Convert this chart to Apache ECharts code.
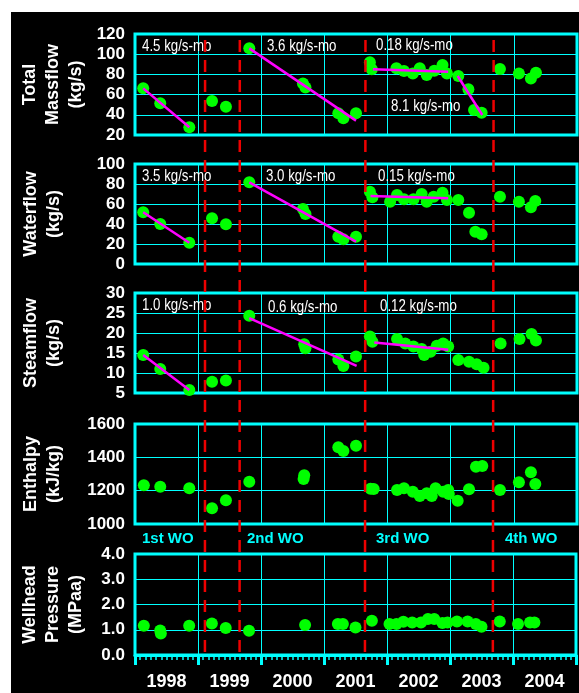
<!DOCTYPE html>
<html><head><meta charset="utf-8">
<script src="https://cdn.jsdelivr.net/npm/echarts@6/dist/echarts.min.js"></script>
<style>
html,body{margin:0;padding:0;background:#fff;}
#bg{position:absolute;left:11px;top:12px;width:568px;height:681px;background:#000;}
#chart{position:absolute;left:0;top:0;width:579px;height:693px;}
</style></head><body>
<div id="bg"></div><div id="chart"></div>
<script>
// ---- data (decimal year, value) ----
const yearLabels = ['1998','1999','2000','2001','2002','2003','2004'];
const massflow = [
 [1998.13,66.2],[1998.40,51.4],[1998.86,27.6],[1999.22,53.7],[1999.44,48],[1999.81,105.8],
 [2000.66,71],[2000.70,67],[2001.22,41.5],[2001.30,36.5],[2001.50,41.5],[2001.72,92],[2001.75,85],
 [2002.14,86],[2002.26,83.4],[2002.40,81],[2002.51,86],[2002.62,79.4],[2002.74,83.7],[2002.87,89.3],[2002.94,81],
 [2003.12,78.4],[2003.28,65.2],[2003.37,44.8],[2003.49,42],
 [2003.78,85.3],[2004.08,81],[2004.27,76],[2004.35,81.7]
];
const waterflow = [
 [1998.13,51.7],[1998.40,40],[1998.86,21.3],[1999.22,45.7],[1999.44,39.7],[1999.81,81.7],
 [2000.66,55],[2000.70,50],[2001.22,27.3],[2001.30,24.7],[2001.50,27.3],[2001.72,72.3],[2001.76,66.7],
 [2002.04,62.3],[2002.15,69],[2002.26,64.7],[2002.41,64.7],[2002.54,70],[2002.62,62.3],[2002.73,67.3],[2002.87,71.3],[2002.94,64],[2003.12,64],
 [2003.29,51.3],[2003.39,32.3],[2003.49,29.7],
 [2003.78,67.3],[2004.08,62.3],[2004.27,56.7],[2004.34,63]
];
const steamflow = [
 [1998.13,14.5],[1998.40,11],[1998.86,5.75],[1999.22,7.8],[1999.44,8.1],[1999.81,24.3],
 [2000.68,17.2],[2000.70,16.2],[2001.22,13.4],[2001.30,11.75],[2001.50,14.1],[2001.72,19.1],[2001.76,17.8],
 [2002.15,18.5],[2002.28,17.4],[2002.41,16.6],[2002.54,16],[2002.58,14.5],[2002.68,15.3],[2002.78,16.8],[2002.88,17.4],[2002.96,16.6],
 [2003.12,13.25],[2003.29,12.8],[2003.41,12.2],[2003.52,11.3],
 [2003.79,17.4],[2004.09,18.5],[2004.28,19.75],[2004.35,18.1]
];
const enthalpy = [
 [1998.14,1232],[1998.40,1224],[1998.86,1214],[1999.22,1094],[1999.44,1142],[1999.81,1254],
 [2000.68,1292],[2000.67,1270],[2001.22,1460],[2001.30,1438],[2001.50,1470],[2001.73,1212],[2001.78,1210],
 [2002.15,1204],[2002.26,1214],[2002.40,1194],[2002.51,1168],[2002.62,1184],[2002.70,1168],[2002.76,1214],[2002.88,1194],[2002.96,1204],[2002.97,1180],
 [2003.11,1140],[2003.29,1208],[2003.40,1344],[2003.50,1348],
 [2003.78,1204],[2004.08,1250],[2004.27,1310],[2004.34,1240]
];
const pressure = [
 [1998.14,1.16],[1998.40,0.97],[1998.41,0.85],[1998.86,1.16],[1999.22,1.25],[1999.44,1.07],[1999.81,0.96],
 [2000.70,1.19],[2001.22,1.23],[2001.30,1.23],[2001.50,1.09],[2001.76,1.36],
 [2002.04,1.23],[2002.15,1.23],[2002.26,1.32],[2002.40,1.29],[2002.54,1.29],[2002.65,1.43],[2002.75,1.43],[2002.88,1.27],[2002.96,1.29],
 [2003.11,1.33],[2003.28,1.33],[2003.41,1.23],[2003.50,1.12],
 [2003.79,1.33],[2004.08,1.23],[2004.27,1.29],[2004.34,1.29]
];
const massflowTrends = [
 [[1998.13,66.2],[1998.86,27.6]],
 [[1999.81,105.8],[2001.50,34.2]],
 [[2001.77,85],[2002.96,82.7]],
 [[2003.11,78.4],[2003.50,39.8]]
];
const waterflowTrends = [
 [[1998.13,51.7],[1998.86,21.3]],
 [[1999.81,81.7],[2001.50,22.3]],
 [[2001.73,68],[2002.96,65.7]]
];
const steamflowTrends = [
 [[1998.13,14.5],[1998.86,5.75]],
 [[1999.81,23.7],[2001.51,11.8]],
 [[2001.79,17.6],[2002.96,15.8]]
];
const workovers = [1999.11, 1999.66, 2001.65, 2003.68];
const woLabels = ['1st WO','2nd WO','3rd WO','4th WO'];
const rateLabels = [
 ['4.5 kg/s-mo',142,47],['3.6 kg/s-mo',267,47],['0.18 kg/s-mo',376,46],['8.1 kg/s-mo',391,107],
 ['3.5 kg/s-mo',142,177],['3.0 kg/s-mo',266,177],['0.15 kg/s-mo',378,177],
 ['1.0 kg/s-mo',142,306],['0.6 kg/s-mo',268,308],['0.12 kg/s-mo',380,307]
];
const woLabelPos = [[142,539],[247,539],[376,539],[505,539]];

// ---- chart ----
const CYAN = '#00ffff';
const SANS = '"Liberation Sans",Arial,sans-serif';
const gridBoxes = [[34,101],[164,100],[293,100],[424,100],[554,101]];
const yDefs = [
 {min:20,max:120,interval:20,name:'Total\nMassflow\n(kg/s)',gap:47},
 {min:0,max:100,interval:20,name:'Waterflow\n(kg/s)',gap:69},
 {min:5,max:30,interval:5,name:'Steamflow\n(kg/s)',gap:69},
 {min:1000,max:1600,interval:200,name:'Enthalpy\n(kJ/kg)',gap:69},
 {min:0,max:4,interval:1,name:'Wellhead\nPressure\n(MPaa)',gap:47,fmt:v=>v.toFixed(1)}
];
const seriesData = [massflow, waterflow, steamflow, enthalpy, pressure];
const trendSets = [massflowTrends, waterflowTrends, steamflowTrends];

const grid = gridBoxes.map(b=>({left:135,right:2,top:b[0],height:b[1],show:true,
  borderColor:CYAN,borderWidth:3,backgroundColor:'transparent'}));

const xAxis = gridBoxes.map((b,i)=>({
  type:'value',gridIndex:i,min:1998,max:2005,interval:1,position:'bottom',
  splitLine:{show:true,lineStyle:{color:CYAN,width:1}},
  axisLabel:{show:false},
  axisLine:{show:i===4,lineStyle:{color:CYAN,width:3}},
  axisTick:{show:i===4,length:10,lineStyle:{color:CYAN,width:3}},
  minorTick:{show:i===4,splitNumber:12,length:5,lineStyle:{color:CYAN,width:1.5}}
}));
xAxis.push({
  type:'value',gridIndex:4,min:1998,max:2005,interval:0.5,position:'bottom',
  splitLine:{show:false},axisLine:{show:false},axisTick:{show:false},
  axisLabel:{show:true,interval:0,margin:18,color:'#fff',fontFamily:SANS,fontWeight:'bold',fontSize:18,
    formatter:v=>{const f=v-Math.floor(v);return Math.abs(f-0.5)<1e-6?yearLabels[Math.floor(v)-1998]:'';}}
});

const yAxis = yDefs.map((d,i)=>({
  type:'value',gridIndex:i,min:d.min,max:d.max,interval:d.interval,
  name:d.name,nameLocation:'middle',nameRotate:90,nameGap:d.gap,nameMoveOverlap:false,
  nameTextStyle:{color:'#fff',fontFamily:SANS,fontWeight:'bold',fontSize:18,lineHeight:23},
  axisLine:{show:false},axisTick:{show:false},
  splitLine:{show:true,lineStyle:{color:CYAN,width:1}},
  axisLabel:{color:'#fff',fontFamily:SANS,fontWeight:'bold',fontSize:17,margin:10,
    formatter:d.fmt||(v=>String(v))}
}));

const series = [];
seriesData.forEach((data,i)=>{
  series.push({type:'scatter',xAxisIndex:i,yAxisIndex:i,data:data,symbol:'circle',symbolSize:12,
    itemStyle:{color:'#00ff00',opacity:1},z:3,silent:true});
});
trendSets.forEach((set,i)=>{
  set.forEach(seg=>{
    series.push({type:'line',xAxisIndex:i,yAxisIndex:i,data:seg,symbol:'none',
      lineStyle:{color:'#ff00ff',width:2.5},z:4,silent:true});
  });
});

const graphic = [];
rateLabels.forEach(r=>{
  graphic.push({type:'text',z:50,x:r[1],y:r[2],scaleX:0.83,scaleY:1,
    style:{text:r[0],x:0,y:0,fill:'#fff',fontSize:16,
    fontFamily:SANS,verticalAlign:'middle',align:'left'}});
});
woLabels.forEach((t,i)=>{
  graphic.push({type:'text',z:50,style:{text:t,x:woLabelPos[i][0],y:woLabelPos[i][1],fill:CYAN,fontSize:15,
    fontWeight:'bold',fontFamily:SANS,verticalAlign:'middle',align:'left'}});
});

const chart = echarts.init(document.getElementById('chart'),null,{renderer:'canvas'});
chart.setOption({backgroundColor:'transparent',animation:false,grid,xAxis,yAxis,series,graphic});

// workover dashed lines spanning all panels, placed through the axes' scales
const lines = workovers.map(x=>{
  const p1 = chart.convertToPixel({xAxisIndex:0,yAxisIndex:0},[x,114]);
  const p2 = chart.convertToPixel({xAxisIndex:4,yAxisIndex:4},[x,0.08]);
  return {type:'line',z:60,silent:true,shape:{x1:p1[0],y1:p1[1],x2:p2[0],y2:p2[1]},
    style:{stroke:'#ee0000',lineWidth:2.5,lineDash:[12,8]}};
});
chart.setOption({graphic:graphic.concat(lines)});
</script>
</body></html>
